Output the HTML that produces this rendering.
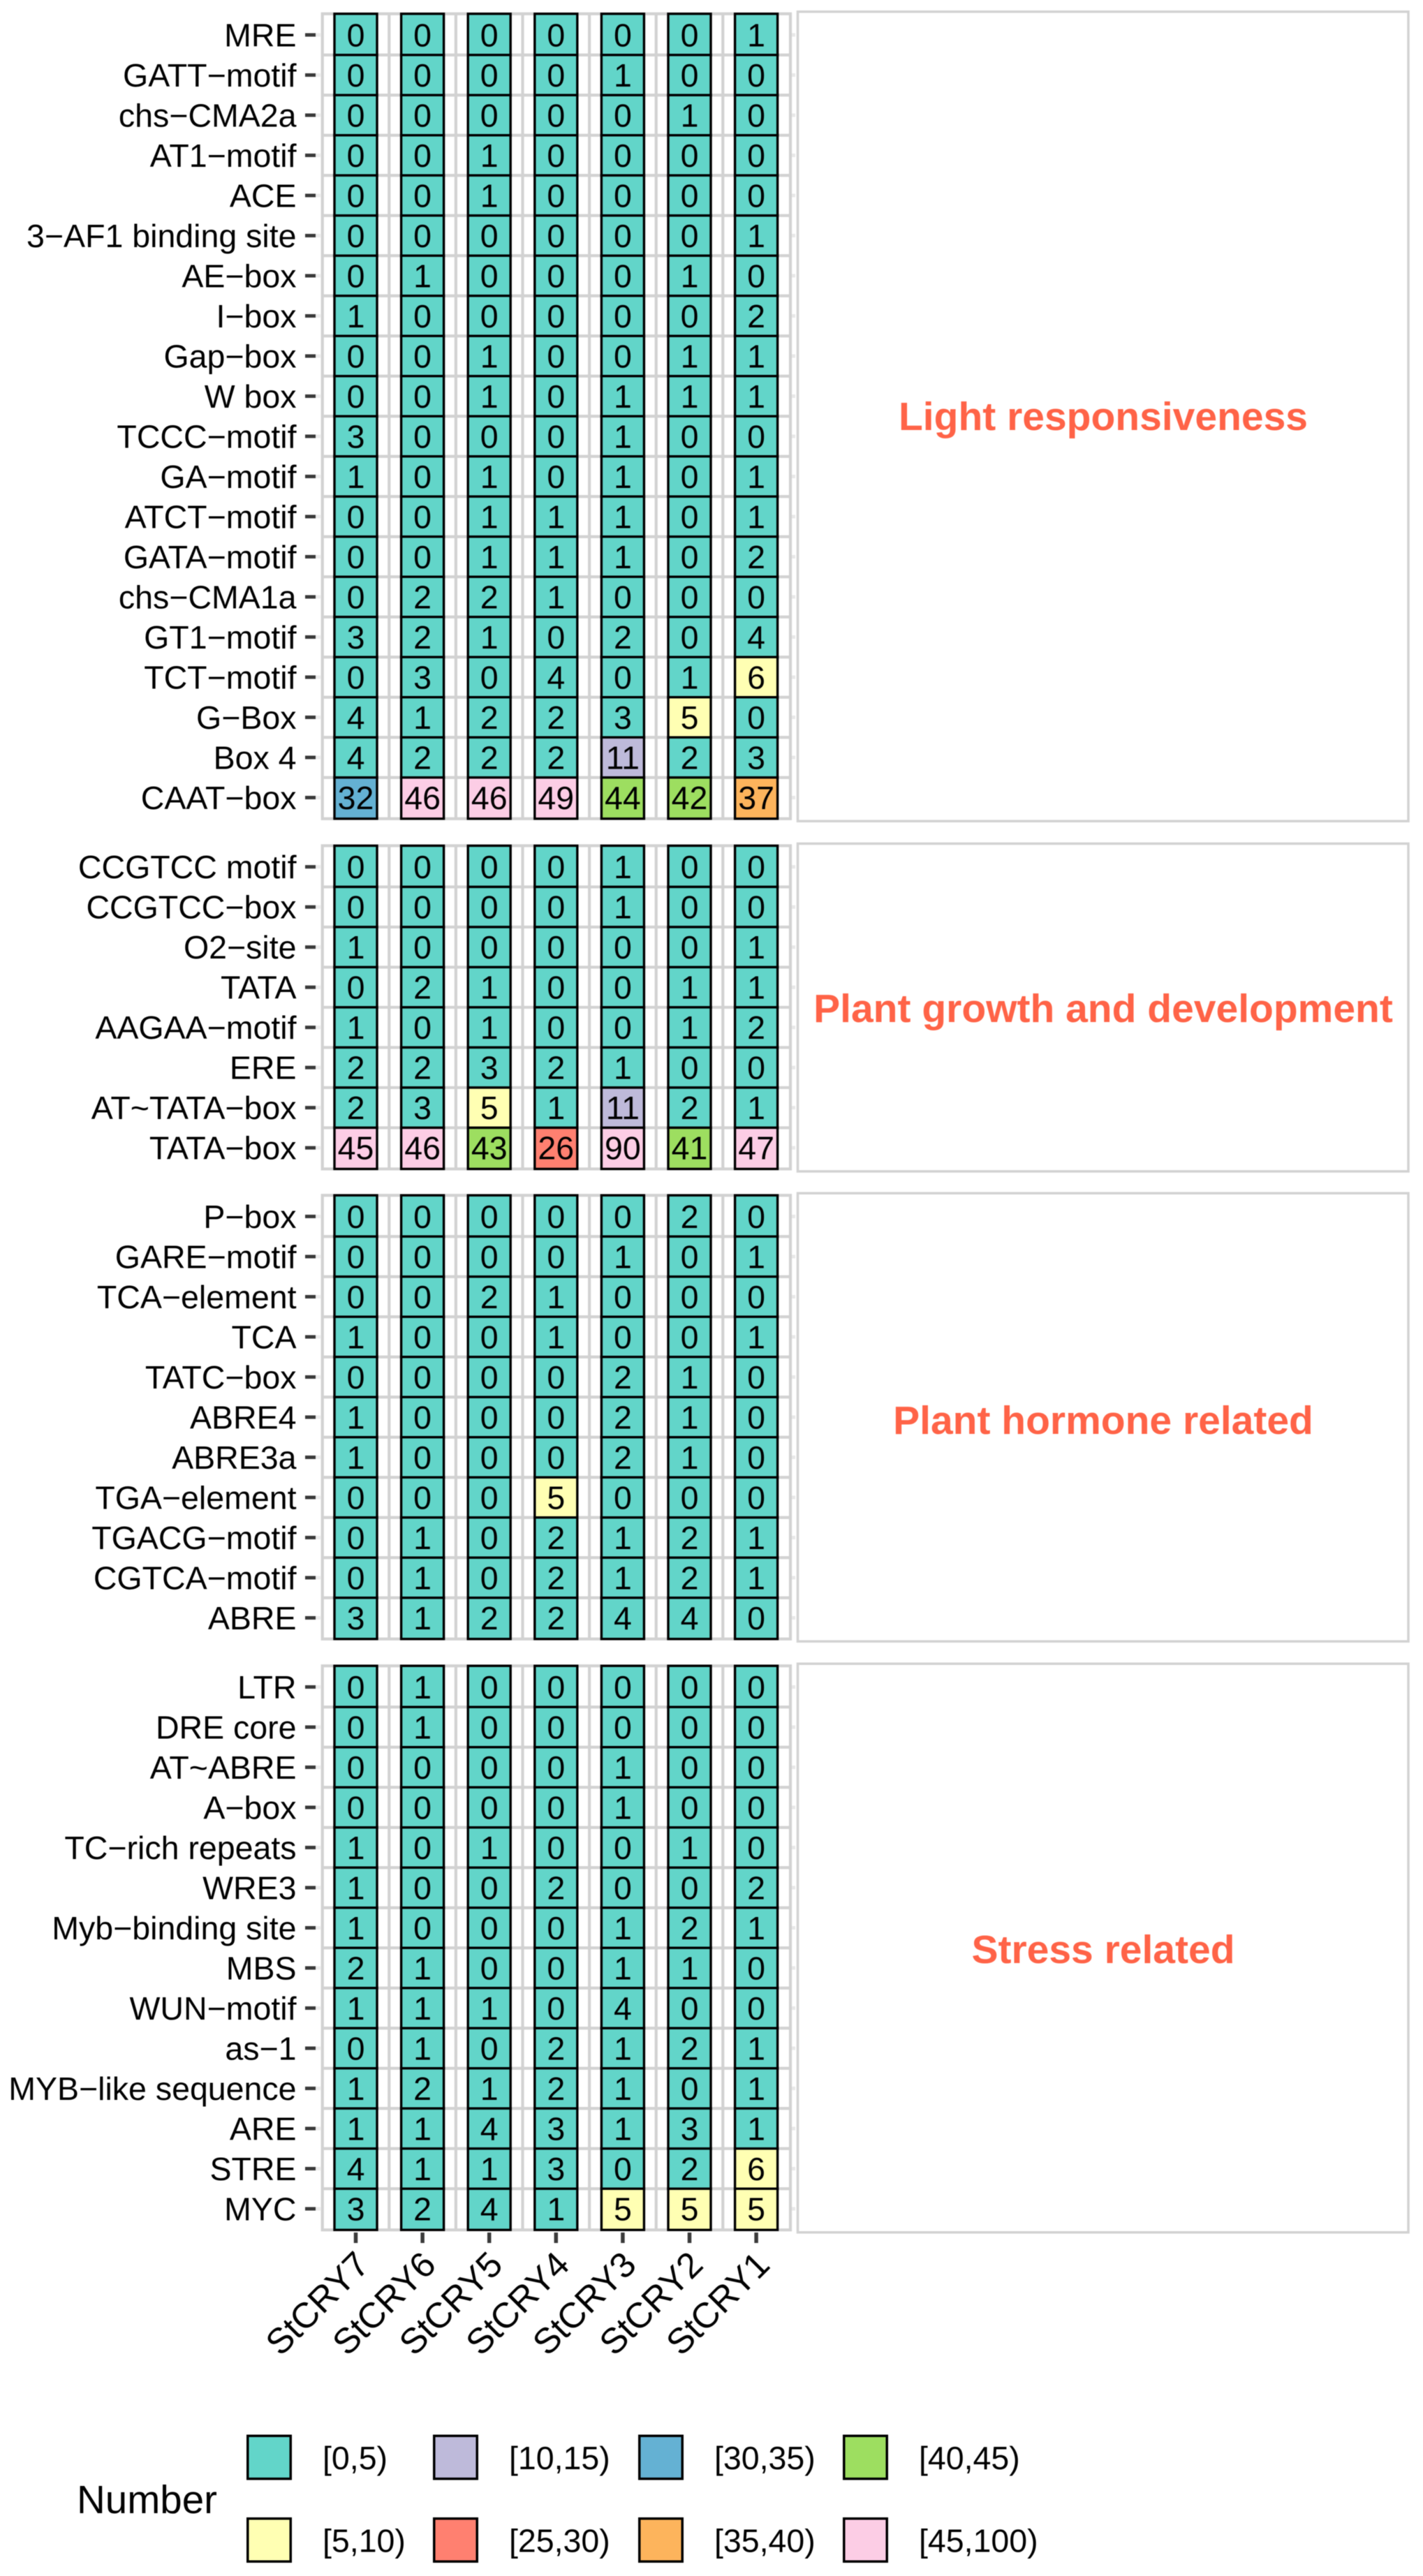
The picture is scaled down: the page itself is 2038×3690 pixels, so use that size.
<!DOCTYPE html>
<html lang="en">
<head>
<meta charset="utf-8">
<title>Cis-acting element heatmap</title>
<style>
html,body{margin:0;padding:0;background:#fff;}
svg{display:block;font-family:"Liberation Sans",Arial,sans-serif;filter:blur(0.6px);}
</style>
</head>
<body>
<svg id="chart" xmlns="http://www.w3.org/2000/svg" width="2038" height="3690" viewBox="0 0 2038 3690">
  <rect x="0" y="0" width="2038" height="3690" fill="#ffffff"/>
  <g id="panels"></g>
  <g id="xaxis"></g>
  <g id="legend"></g>
  <text x="110" y="3600" font-size="56.5" fill="#000">Number</text>
</svg>
<script>
const genes = ["StCRY7","StCRY6","StCRY5","StCRY4","StCRY3","StCRY2","StCRY1"];

const lightMotifs = ["MRE","GATT−motif","chs−CMA2a","AT1−motif","ACE","3−AF1 binding site","AE−box","I−box","Gap−box","W box","TCCC−motif","GA−motif","ATCT−motif","GATA−motif","chs−CMA1a","GT1−motif","TCT−motif","G−Box","Box 4","CAAT−box"];
const lightValues = [
  [0,0,0,0,0,0,1],[0,0,0,0,1,0,0],[0,0,0,0,0,1,0],[0,0,1,0,0,0,0],[0,0,1,0,0,0,0],
  [0,0,0,0,0,0,1],[0,1,0,0,0,1,0],[1,0,0,0,0,0,2],[0,0,1,0,0,1,1],[0,0,1,0,1,1,1],
  [3,0,0,0,1,0,0],[1,0,1,0,1,0,1],[0,0,1,1,1,0,1],[0,0,1,1,1,0,2],[0,2,2,1,0,0,0],
  [3,2,1,0,2,0,4],[0,3,0,4,0,1,6],[4,1,2,2,3,5,0],[4,2,2,2,11,2,3],[32,46,46,49,44,42,37]
];

const growthMotifs = ["CCGTCC motif","CCGTCC−box","O2−site","TATA","AAGAA−motif","ERE","AT~TATA−box","TATA−box"];
const growthValues = [
  [0,0,0,0,1,0,0],[0,0,0,0,1,0,0],[1,0,0,0,0,0,1],[0,2,1,0,0,1,1],
  [1,0,1,0,0,1,2],[2,2,3,2,1,0,0],[2,3,5,1,11,2,1],[45,46,43,26,90,41,47]
];

const hormoneMotifs = ["P−box","GARE−motif","TCA−element","TCA","TATC−box","ABRE4","ABRE3a","TGA−element","TGACG−motif","CGTCA−motif","ABRE"];
const hormoneValues = [
  [0,0,0,0,0,2,0],[0,0,0,0,1,0,1],[0,0,2,1,0,0,0],[1,0,0,1,0,0,1],[0,0,0,0,2,1,0],
  [1,0,0,0,2,1,0],[1,0,0,0,2,1,0],[0,0,0,5,0,0,0],[0,1,0,2,1,2,1],[0,1,0,2,1,2,1],[3,1,2,2,4,4,0]
];

const stressMotifs = ["LTR","DRE core","AT~ABRE","A−box","TC−rich repeats","WRE3","Myb−binding site","MBS","WUN−motif","as−1","MYB−like sequence","ARE","STRE","MYC"];
const stressValues = [
  [0,1,0,0,0,0,0],[0,1,0,0,0,0,0],[0,0,0,0,1,0,0],[0,0,0,0,1,0,0],[1,0,1,0,0,1,0],
  [1,0,0,2,0,0,2],[1,0,0,0,1,2,1],[2,1,0,0,1,1,0],[1,1,1,0,4,0,0],[0,1,0,2,1,2,1],
  [1,2,1,2,1,0,1],[1,1,4,3,1,3,1],[4,1,1,3,0,2,6],[3,2,4,1,5,5,5]
];

const binLabels = ["[0,5)","[5,10)","[10,15)","[25,30)","[30,35)","[35,40)","[40,45)","[45,100)"];
const binLower = [0,5,10,25,30,35,40,45];
const binColors = ["#62D5C9","#FFFFB3","#BEBADA","#FF8070","#64B1D3","#FDB45C","#9DDE60","#FCCDE5"];

const facetTitles = ["Light responsiveness","Plant growth and development","Plant hormone related","Stress related"];

const SVGNS = "http://www.w3.org/2000/svg";
const ROW = 57.5, COL = 95.6, TILE_W = 61, EDGE = 1.5;
function xScale(i){ return 509.5 + COL * i; }
function yScale(firstCenter, j){ return firstCenter + ROW * j; }
function binIndex(v){
  let k = 0;
  for (let i = 0; i < binLower.length; i++) { if (v >= binLower[i]) k = i; }
  return k;
}
function make(tag, attrs, parent, txt){
  const el = document.createElementNS(SVGNS, tag);
  for (const k in attrs) el.setAttribute(k, attrs[k]);
  if (txt !== undefined) el.textContent = txt;
  parent.appendChild(el);
  return el;
}

function drawPanel(parent, key, title, motifs, values, firstCenter, titleY){
  const g = make("g", {}, parent);
  
  
  const top = firstCenter - ROW / 2 - EDGE, bottom = yScale(firstCenter, motifs.length - 1) + ROW / 2 + EDGE;
  const left = 461.7, right = 1132, grid = "#d2d2d2";

  // horizontal grid lines between rows
  motifs.forEach((m, j) => {
    if (j > 0) {
      const y = yScale(firstCenter, j) - ROW / 2;
      const h = make("line", {x1:left, x2:right, y1:y, y2:y, stroke:grid, "stroke-width":4.2}, g);
      
      
    }
  });
  // vertical grid lines between columns
  genes.forEach((c, i) => {
    if (i > 0) {
      const x = xScale(i) - COL / 2;
      const v = make("line", {x1:x, x2:x, y1:top, y2:bottom, stroke:grid, "stroke-width":4.2}, g);
      
      
    }
  });
  const border = make("rect", {x:left, y:top, width:right-left, height:bottom-top, fill:"none", stroke:grid, "stroke-width":4.2}, g);
  
  

  // y axis ticks and labels
  motifs.forEach((m, j) => {
    const y = yScale(firstCenter, j);
    const faintL = make("rect", {x:452, y:y-2.5, width:7, height:5, fill:"#ececec"}, g);
    
    
    const faintR = make("rect", {x:1134, y:y-2.5, width:5, height:5, fill:"#e8e8e8"}, g);
    
    
    const tick = make("rect", {x:437, y:y-2.5, width:15, height:5, fill:"#3a3a3a"}, g);
    
    
    const lab = make("text", {x:424.5, y:y+16.5, "text-anchor":"end", "font-size":46.5, fill:"#000"}, g, m);
    
    
  });

  // tiles and printed values
  values.forEach((row, j) => {
    row.forEach((v, i) => {
      const cx = xScale(i), cy = yScale(firstCenter, j);
      const y0 = j === 0 ? top : cy - ROW / 2;
      const y1 = j === values.length - 1 ? bottom : cy + ROW / 2;
      const cell = make("rect", {x:cx-TILE_W/2, y:y0, width:TILE_W, height:y1-y0, fill:binColors[binIndex(v)], stroke:"#000", "stroke-width":3.4}, g);
      
      
    });
  });
  values.forEach((row, j) => {
    row.forEach((v, i) => {
      const cx = xScale(i), cy = yScale(firstCenter, j);
      const t = make("text", {x:cx, y:cy+16.5, "text-anchor":"middle", "font-size":46.5, fill:"#000"}, g, String(v));
      
      
    });
  });

  // facet box with title
  const box = make("rect", {x:1142.5, y:top-3, width:874.5, height:bottom-top+6.5, fill:"#fff", stroke:grid, "stroke-width":3.5}, g);
  
  
  const tt = make("text", {x:1580, y:titleY, "text-anchor":"middle", "font-size":57, "font-weight":"bold", fill:"#FF6347"}, g, title);
  
  
}

const panelsG = document.getElementById("panels");
drawPanel(panelsG, "light",   facetTitles[0], lightMotifs,   lightValues,   50,     616);
drawPanel(panelsG, "growth",  facetTitles[1], growthMotifs,  growthValues,  1241.7, 1464);
drawPanel(panelsG, "hormone", facetTitles[2], hormoneMotifs, hormoneValues, 1742.5, 2054);
drawPanel(panelsG, "stress",  facetTitles[3], stressMotifs,  stressValues,  2416.5, 2812);

// x axis
const xG = document.getElementById("xaxis");
genes.forEach((name, i) => {
  const x = xScale(i);
  const tick = make("rect", {x:x-2.75, y:3198, width:5.5, height:15, fill:"#3a3a3a"}, xG);
  
  
  const bx = x + 22, by = 3247;
  const lab = make("text", {x:bx, y:by, "text-anchor":"end", "font-size":51, fill:"#000", transform:"rotate(-45 " + bx + " " + by + ")"}, xG, name);
  
  
});

// legend
const lg = document.getElementById("legend");
binLabels.forEach((label, k) => {
  const col = Math.floor(k / 2), row = k % 2;
  const keyX = 353 + [0, 267, 561, 854][col];
  const textX = 462 + [0, 267, 561, 854][col];
  const keyY = row === 0 ? 3487.5 : 3606;
  const key = make("rect", {x:keyX+1.75, y:keyY+1.75, width:61.5, height:61.5, fill:binColors[k], stroke:"#000", "stroke-width":3.5}, lg);
  
  
  const t = make("text", {x:textX, y:keyY+49.5, "font-size":46.5, fill:"#000"}, lg, label);
  
  
});
</script>
</body>
</html>
